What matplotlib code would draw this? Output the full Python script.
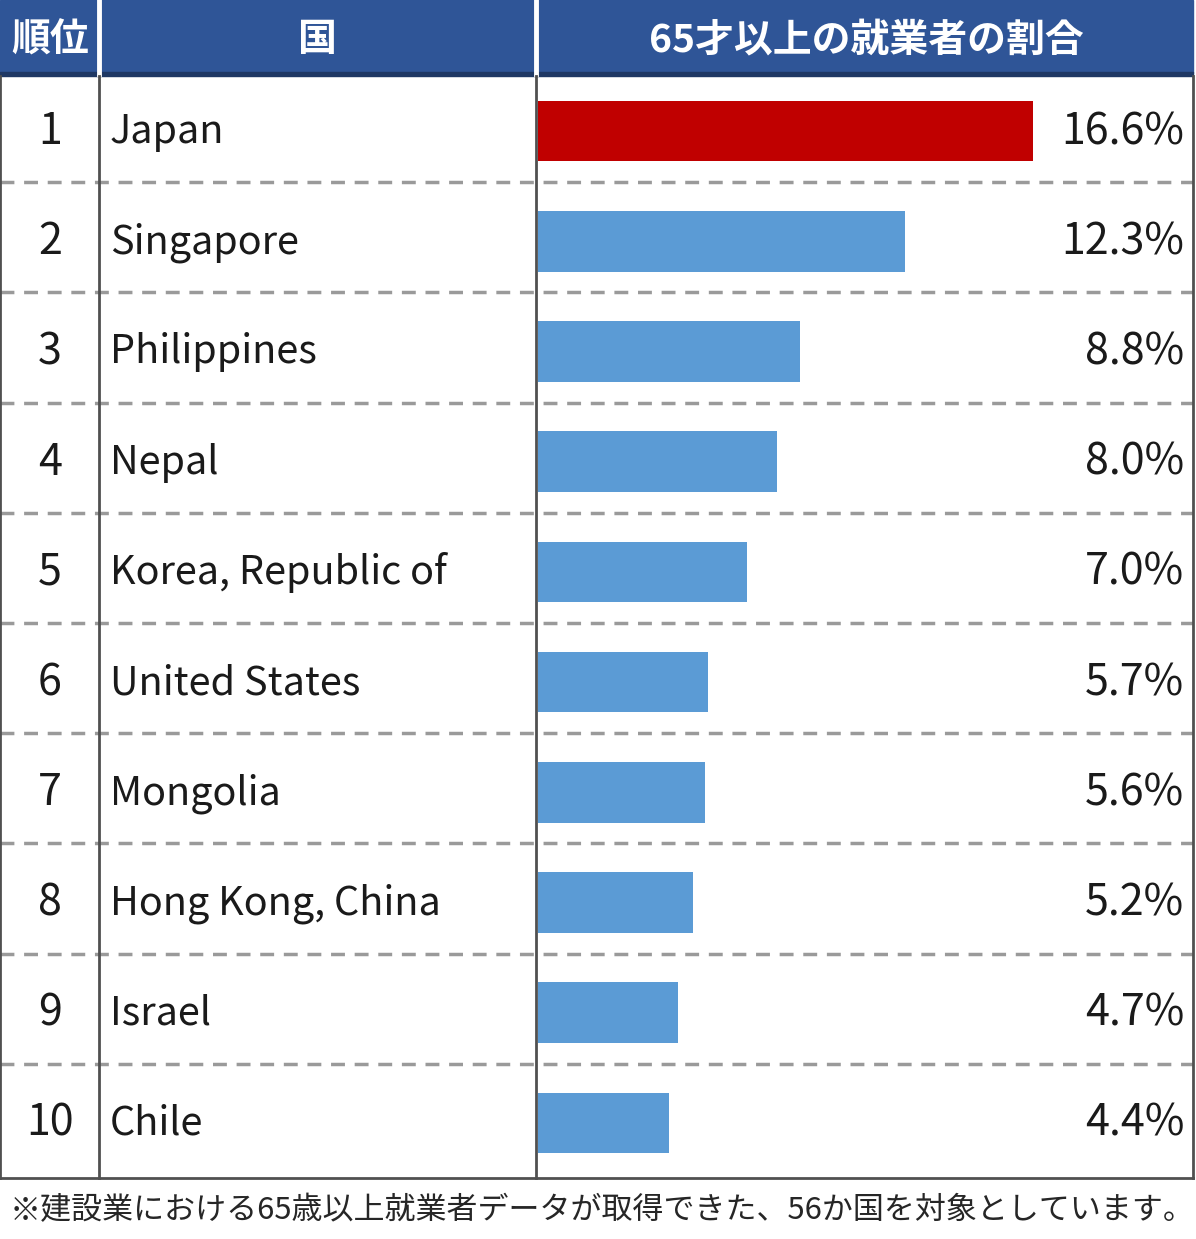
import matplotlib
matplotlib.use("Agg")
import matplotlib.pyplot as plt
from matplotlib.patches import Rectangle

plt.rcParams['font.family'] = ['Noto Sans CJK JP', 'DejaVu Sans']

# data
ranks = [1, 2, 3, 4, 5, 6, 7, 8, 9, 10]
countries = ["Japan", "Singapore", "Philippines", "Nepal", "Korea, Republic of",
             "United States", "Mongolia", "Hong Kong, China", "Israel", "Chile"]
shares = [16.6, 12.3, 8.8, 8.0, 7.0, 5.7, 5.6, 5.2, 4.7, 4.4]
headers = ["順位", "国", "65才以上の就業者の割合"]
note = "※建設業における65歳以上就業者データが取得できた、56か国を対象としています。"

W, H = 1196, 1239
fig = plt.figure(figsize=(W / 100, H / 100), dpi=100)
fig.patch.set_facecolor("white")

# background axes in pixel coordinates
bg = fig.add_axes([0, 0, 1, 1])
bg.set_xlim(0, W)
bg.set_ylim(H, 0)
bg.axis("off")

top, bottom = 76, 1178
row_h = (bottom - top) / len(ranks)
col_x = [0, 99, 536, 1193]

# header band
bg.add_patch(Rectangle((0, 0), 1193, 73, color="#2F5597", zorder=1))
bg.add_patch(Rectangle((0, 72), 1193, 4, color="#1F3864", zorder=2))
for x in col_x[1:3]:
    bg.plot([x, x], [0, 74], color="white", lw=3.5, zorder=3)
centers = [50, (col_x[1] + col_x[2]) / 2, 866]
for cx, txt in zip(centers, headers):
    bg.text(cx, 40, txt, ha="center", va="center", color="white",
            fontsize=28, fontweight="bold", zorder=4)

# dashed row dividers
for i in range(1, len(ranks)):
    y = top + i * row_h - 4
    bg.plot([0, 1193], [y, y], color="#9a9a9a", lw=2.5,
            ls=(0, (4, 2.8)), zorder=2)

# column and border lines
for x in col_x:
    bg.plot([x, x], [top, bottom], color="#505050", lw=2, zorder=5)
bg.plot([0, 1193], [bottom, bottom], color="#505050", lw=2, zorder=5)

# rank, country and value text
for i, (r, c, v) in enumerate(zip(ranks, countries, shares)):
    y = top + (i + 0.5) * row_h + 1
    bg.text(50, y, str(r), ha="center", va="center", fontsize=31,
            color="#1a1a1a")
    bg.text(110, y, c, ha="left", va="center", fontsize=28.5,
            color="#1a1a1a")
    bg.text(1184, y, f"{v:.1f}%", ha="right", va="center", fontsize=31,
            color="#1a1a1a")

bg.text(602, 1211, note, ha="center", va="center", fontsize=22.3,
        color="#262626")

# bar axes over the third column
ax = fig.add_axes([538 / W, (H - bottom) / H, (1193 - 538) / W,
                   (bottom - top) / H])
ax.patch.set_alpha(0)
colors = ["#C00000"] + ["#5B9BD5"] * (len(ranks) - 1)
ax.barh(ranks, shares, height=0.55, color=colors, zorder=3)
ax.set_xlim(0, 21.97)
ax.set_ylim(10.5, 0.5)
ax.axis("off")

fig.savefig("out.png", dpi=100)
